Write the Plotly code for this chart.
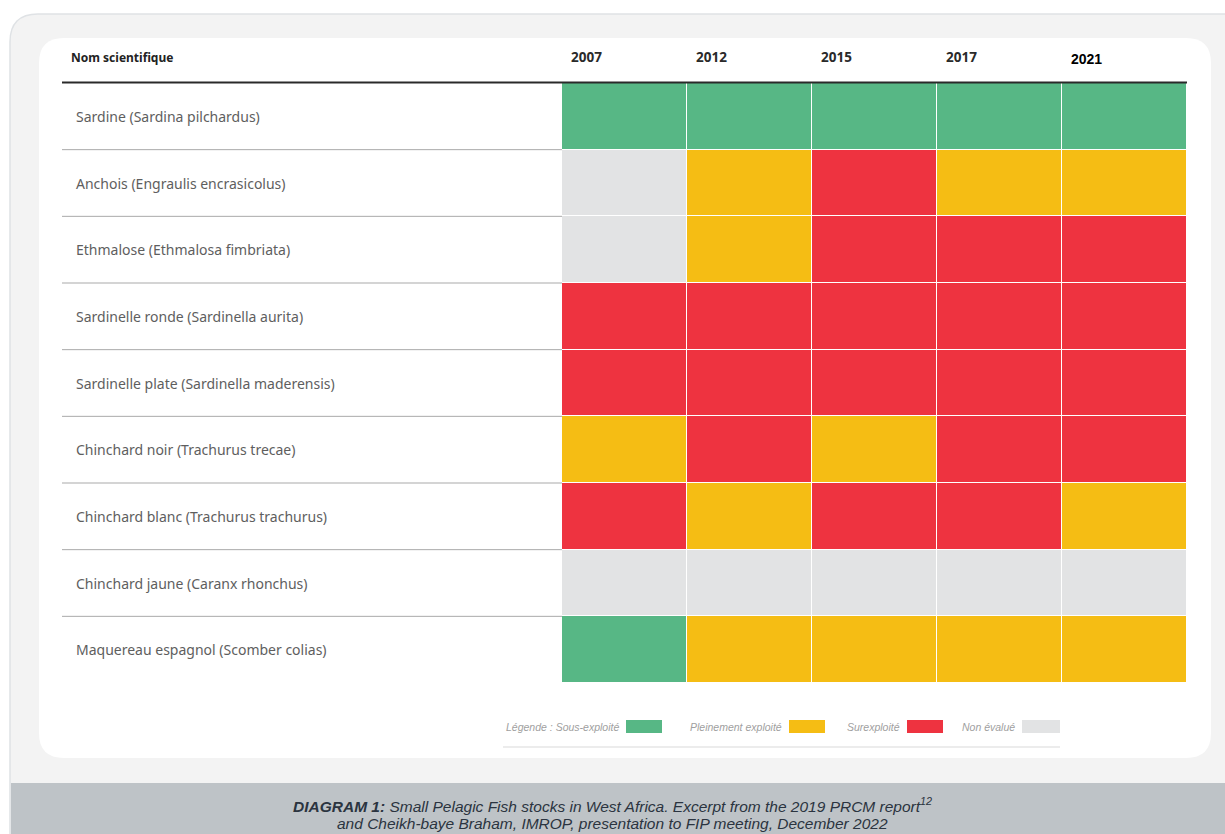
import plotly.graph_objects as go

W, H = 1225, 834

species = [
    "Sardine (Sardina pilchardus)",
    "Anchois (Engraulis encrasicolus)",
    "Ethmalose (Ethmalosa fimbriata)",
    "Sardinelle ronde (Sardinella aurita)",
    "Sardinelle plate (Sardinella maderensis)",
    "Chinchard noir (Trachurus trecae)",
    "Chinchard blanc (Trachurus trachurus)",
    "Chinchard jaune (Caranx rhonchus)",
    "Maquereau espagnol (Scomber colias)",
]
years = ["2007", "2012", "2015", "2017", "2021"]

# S = Sous-exploité, P = Pleinement exploité, E = Surexploité, N = Non évalué
status_2007 = ["S", "N", "N", "E", "E", "P", "E", "N", "S"]
status_2012 = ["S", "P", "P", "E", "E", "E", "P", "N", "P"]
status_2015 = ["S", "E", "E", "E", "E", "P", "E", "N", "P"]
status_2017 = ["S", "P", "E", "E", "E", "E", "E", "N", "P"]
status_2021 = ["S", "P", "E", "E", "E", "E", "P", "N", "P"]

legend_codes = ["S", "P", "E", "N"]
legend_labels = ["Légende : Sous-exploité", "Pleinement exploité", "Surexploité", "Non évalué"]
legend_colors = ["#57b785", "#f5bd14", "#ee3340", "#e2e3e4"]

caption_title = "DIAGRAM 1:"
caption_text1 = " Small Pelagic Fish stocks in West Africa. Excerpt from the 2019 PRCM report"
caption_sup = "12"
caption_text2 = "and Cheikh-baye Braham, IMROP, presentation to FIP meeting, December 2022"

code_index = {c: i for i, c in enumerate(legend_codes)}
cols = [status_2007, status_2012, status_2015, status_2017, status_2021]
z = [[code_index[cols[j][i]] for j in range(len(years))] for i in range(len(species))]
text = [[legend_labels[code_index[cols[j][i]]].replace("Légende : ", "") for j in range(len(years))]
        for i in range(len(species))]

n = len(legend_codes)
colorscale = []
for i, c in enumerate(legend_colors):
    colorscale.append([i / n, c])
    colorscale.append([(i + 1) / n, c])


def px(x):
    return x / W


def py(y):
    return 1 - y / H


def rounded_path(x0, y0, x1, y1, r, corners=(True, True, True, True)):
    # corners: tl, tr, br, bl ; pixel coords -> paper coords
    tl, tr, br, bl = corners

    def P(x, y):
        return f"{px(x):.5f},{py(y):.5f}"
    s = f"M {P(x0 + (r if tl else 0), y0)} "
    s += f"L {P(x1 - (r if tr else 0), y0)} "
    if tr:
        s += f"Q {P(x1, y0)} {P(x1, y0 + r)} "
    s += f"L {P(x1, y1 - (r if br else 0))} "
    if br:
        s += f"Q {P(x1, y1)} {P(x1 - r, y1)} "
    s += f"L {P(x0 + (r if bl else 0), y1)} "
    if bl:
        s += f"Q {P(x0, y1)} {P(x0, y1 - r)} "
    s += f"L {P(x0, y0 + (r if tl else 0))} "
    if tl:
        s += f"Q {P(x0, y0)} {P(x0 + r, y0)} "
    s += "Z"
    return s


fig = go.Figure(go.Heatmap(
    z=z, x=years, y=species, text=text,
    colorscale=colorscale, zmin=-0.5, zmax=n - 0.5,
    showscale=False, xgap=1, ygap=1,
    hovertemplate="%{y}<br>%{x}: %{text}<extra></extra>",
))

shapes = []
# outer light card
shapes.append(dict(type="path", xref="paper", yref="paper",
                   path=rounded_path(10, 14, 1250, 860, 28),
                   fillcolor="#f3f3f3", line=dict(color="#dfe2e5", width=1.5), layer="below"))
# caption band
shapes.append(dict(type="path", xref="paper", yref="paper",
                   path=rounded_path(11, 783, 1250, 855, 22, corners=(False, False, False, True)),
                   fillcolor="#bec3c7", line=dict(width=0), layer="below"))
# inner white card
shapes.append(dict(type="path", xref="paper", yref="paper",
                   path=rounded_path(39, 38, 1211, 758, 25),
                   fillcolor="#ffffff", line=dict(width=0), layer="below"))
# header line
shapes.append(dict(type="line", xref="paper", yref="paper",
                   x0=px(62), x1=px(1187), y0=py(82.5), y1=py(82.5),
                   line=dict(color="#2a2a2a", width=1.8), layer="above"))
# row separators in the label column
for i in range(len(species) - 1):
    shapes.append(dict(type="line", xref="paper", yref="y",
                       x0=px(62), x1=px(562), y0=i + 0.5, y1=i + 0.5,
                       line=dict(color="#a9a9a9", width=1)))

annotations = []
annotations.append(dict(text="<b>Nom scientifique</b>", xref="paper", yref="paper",
                        x=px(69), y=py(57), xanchor="left", yanchor="middle", showarrow=False,
                        font=dict(family="Noto Sans", size=12, color="#222")))
for j, yr in enumerate(years):
    last = j == len(years) - 1
    annotations.append(dict(text=f"<b>{yr}</b>", xref="x", yref="paper",
                            x=j - 0.5, xshift=7, y=py(59 if last else 57),
                            xanchor="left", yanchor="middle", showarrow=False,
                            font=dict(family="Liberation Sans" if last else "Noto Sans",
                                      size=14 if last else 13.5,
                                      color="#000" if last else "#2a2a2a")))
for s in species:
    annotations.append(dict(text=s, xref="paper", yref="y", x=px(74), y=s,
                            xanchor="left", yanchor="middle", showarrow=False,
                            font=dict(family="Noto Sans", size=14, color="#5e5e5e")))

# custom legend
box_x = [626, 789, 907, 1022]
box_w = [36, 36, 36, 38]
for lbl, col, bx, bw in zip(legend_labels, legend_colors, box_x, box_w):
    shapes.append(dict(type="rect", xref="paper", yref="paper",
                       x0=px(bx), x1=px(bx + bw), y0=py(733), y1=py(720),
                       fillcolor=col, line=dict(width=0)))
    annotations.append(dict(text=f"<i>{lbl}</i>", xref="paper", yref="paper",
                            x=px(bx - 5), y=py(726.5), xanchor="right", yanchor="middle",
                            showarrow=False,
                            font=dict(family="Liberation Sans", size=10.5, color="#a0a0a0")))
shapes.append(dict(type="line", xref="paper", yref="paper",
                   x0=px(503), x1=px(1060), y0=py(747), y1=py(747),
                   line=dict(color="#e6e6e6", width=1.5)))

annotations.append(dict(
    text=f"<i><b>{caption_title}</b>{caption_text1}<sup>{caption_sup}</sup></i>",
    xref="paper", yref="paper", x=px(612), y=py(805), xanchor="center", yanchor="middle",
    showarrow=False, align="center",
    font=dict(family="Liberation Sans", size=15.5, color="#2b3440")))
annotations.append(dict(
    text=f"<i>{caption_text2}</i>",
    xref="paper", yref="paper", x=px(612), y=py(823), xanchor="center", yanchor="middle",
    showarrow=False, align="center",
    font=dict(family="Liberation Sans", size=15.5, color="#2b3440")))

fig.update_layout(
    width=W, height=H,
    margin=dict(l=0, r=0, t=0, b=0),
    paper_bgcolor="#ffffff",
    plot_bgcolor="#c4c4c4",
    xaxis=dict(domain=[px(562), px(1187)], showticklabels=False, showgrid=False,
               zeroline=False, ticks="", fixedrange=True),
    yaxis=dict(domain=[py(683), py(83)], autorange="reversed", showticklabels=False,
               showgrid=False, zeroline=False, ticks="", fixedrange=True),
    shapes=shapes,
    annotations=annotations,
    showlegend=False,
)

fig.write_html("out.html", config={"displayModeBar": False},
               post_script="document.body.style.margin='0';document.body.style.overflow='hidden';")
